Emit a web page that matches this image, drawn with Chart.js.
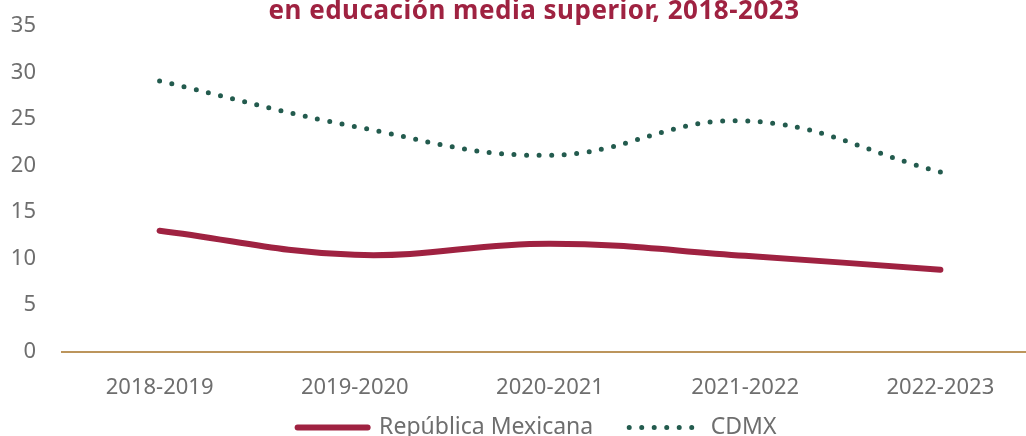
<!DOCTYPE html>
<html lang="es">
<head>
<meta charset="utf-8">
<title>Educación media superior, 2018-2023</title>
<script src="https://cdn.jsdelivr.net/npm/chart.js@4.4.1/dist/chart.umd.min.js"></script>
<style>
  html, body { margin: 0; padding: 0; overflow: hidden; background: #fff; }
  #wrap { position: relative; width: 1068px; height: 495px; }
  #chartTitle {
    position: absolute; left: 0; top: -9px; width: 1068px;
    text-align: center; font-family: "Noto Sans", sans-serif;
    font-weight: bold; font-size: 26px; color: #9f2241; letter-spacing: 0.5px;
  }
</style>
</head>
<body>
<div id="wrap">
  <canvas id="lineChart" width="1068" height="495"></canvas>
  <div id="chartTitle">en educación media superior, 2018-2023</div>
</div>
<script>
const periods = ["2018-2019", "2019-2020", "2020-2021", "2021-2022", "2022-2023"];
const republicaValues = [13.0, 10.4, 11.6, 10.3, 8.8];
const cdmxValues = [29.1, 24.2, 21.1, 24.8, 19.3];
const yTicks = [0, 5, 10, 15, 20, 25, 30, 35];

const fontFamily = "'Noto Sans', sans-serif";
const grayText = "#6e6e6e";

// legend sits a bit right of the plot centre and tighter under the axis
const legendShift = {
  id: "legendShift",
  afterLayout: (chart) => {
    const legend = chart.legend;
    legend.left += 18;
    legend.right += 18;
    legend.top -= 44;
    legend.bottom -= 44;
  },
};

const legendLabels = (chart) =>
  Chart.defaults.plugins.legend.labels.generateLabels(chart).map((item) => {
    const ds = chart.data.datasets[item.datasetIndex];
    return {
      ...item,
      lineWidth: ds.borderWidth,
      lineDash: ds.borderDash || [],
      lineCap: ds.borderCapStyle,
      strokeStyle: ds.borderColor,
    };
  });

const setupChart = () => {
  new Chart(document.getElementById("lineChart"), {
    type: "line",
    data: {
      labels: periods,
      datasets: [
        {
          label: "República Mexicana",
          data: republicaValues,
          borderColor: "#9f2241",
          backgroundColor: "#9f2241",
          borderWidth: 6,
          borderCapStyle: "round",
          tension: 0.4,
          pointRadius: 0,
        },
        {
          label: "CDMX",
          data: cdmxValues,
          borderColor: "#235b4e",
          backgroundColor: "#235b4e",
          borderWidth: 5,
          borderDash: [0, 12.5],
          borderCapStyle: "round",
          tension: 0.4,
          pointRadius: 0,
        },
      ],
    },
    options: {
      responsive: false,
      animation: false,
      layout: { padding: { left: 0, right: 30, top: 26, bottom: 2 } },
      scales: {
        x: {
          offset: true,
          grid: { display: false, drawTicks: false },
          border: { display: true, color: "#bc955c", width: 2 },
          ticks: { color: grayText, padding: 23, font: { family: fontFamily, size: 22 } },
        },
        y: {
          min: yTicks[0],
          max: yTicks[yTicks.length - 1],
          grid: { display: false, drawTicks: false },
          border: { display: false },
          afterBuildTicks: (scale) => {
            scale.ticks = yTicks.map((v) => ({ value: v }));
          },
          afterFit: (scale) => {
            scale.width = 62;
            scale.paddingTop = 0;
            scale.paddingBottom = 0;
          },
          ticks: { color: grayText, padding: 26, font: { family: fontFamily, size: 22 } },
        },
      },
      plugins: {
        legend: {
          position: "bottom",
          labels: {
            usePointStyle: true,
            pointStyle: "line",
            pointStyleWidth: 70,
            padding: 36,
            color: grayText,
            font: { family: fontFamily, size: 23 },
            generateLabels: legendLabels,
          },
        },
        tooltip: { enabled: false },
      },
    },
    plugins: [legendShift],
  });
};

setupChart();
</script>
</body>
</html>
